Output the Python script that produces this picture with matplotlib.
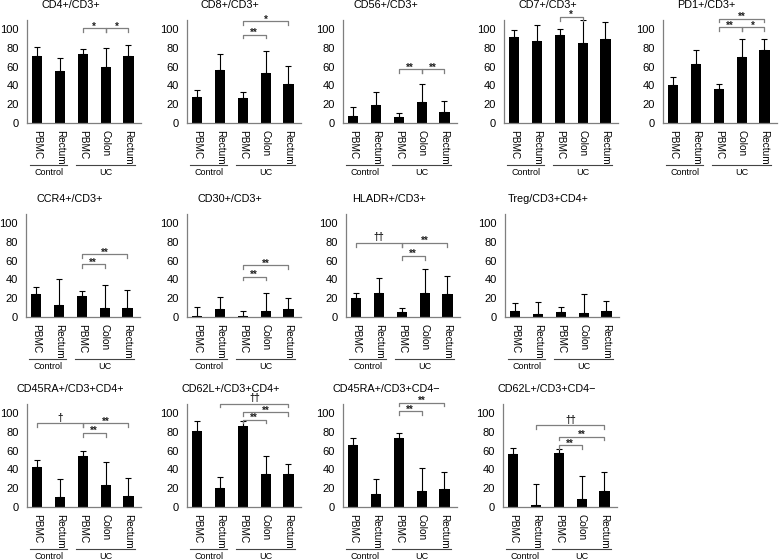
import matplotlib.pyplot as plt
import matplotlib.transforms as mtransforms

plt.rcParams['font.family'] = ['Liberation Sans', 'DejaVu Sans']

categories = ['PBMC', 'Rectum', 'PBMC', 'Colon', 'Rectum']
group_names = ['Control', 'UC']
group_members = [(0, 1), (2, 4)]
yticks = [0, 20, 40, 60, 80, 100]

titles = ['CD4+/CD3+', 'CD8+/CD3+', 'CD56+/CD3+', 'CD7+/CD3+', 'PD1+/CD3+',
          'CCR4+/CD3+', 'CD30+/CD3+', 'HLADR+/CD3+', 'Treg/CD3+CD4+',
          'CD45RA+/CD3+CD4+', 'CD62L+/CD3+CD4+', 'CD45RA+/CD3+CD4\u2212',
          'CD62L+/CD3+CD4\u2212']

# mean values
means = [
    [71, 55, 73, 60, 71],
    [28, 56, 27, 53, 41],
    [7, 19, 6, 22, 12],
    [92, 87, 94, 85, 89],
    [40, 63, 36, 70, 78],
    [25, 13, 22, 10, 10],
    [1, 8, 1, 6, 9],
    [20, 26, 5, 26, 24],
    [6, 3, 5, 4, 6],
    [43, 11, 54, 23, 12],
    [81, 20, 86, 35, 35],
    [66, 14, 73, 17, 19],
    [56, 2, 57, 8, 17],
]

# top of the error bars
upper = [
    [81, 69, 79, 80, 83],
    [35, 73, 33, 77, 61],
    [17, 33, 11, 41, 23],
    [99, 104, 100, 110, 107],
    [49, 78, 41, 89, 89],
    [32, 40, 28, 34, 29],
    [11, 21, 6, 26, 20],
    [26, 42, 10, 51, 44],
    [15, 16, 11, 24, 17],
    [50, 30, 60, 48, 31],
    [91, 32, 91, 54, 46],
    [73, 30, 79, 41, 37],
    [63, 25, 62, 33, 37],
]

# significance comparisons: (left bar, right bar, mark)
comparisons = [
    [(2, 3, '*'), (3, 4, '*')],
    [(2, 3, '**'), (2, 4, '*')],
    [(2, 3, '**'), (3, 4, '**')],
    [(2, 3, '*')],
    [(2, 3, '**'), (3, 4, '*'), (2, 4, '**')],
    [(2, 3, '**'), (2, 4, '**')],
    [(2, 3, '**'), (2, 4, '**')],
    [(0, 2, '\u2020\u2020'), (2, 4, '**'), (2, 3, '**')],
    [],
    [(0, 2, '\u2020'), (2, 4, '**'), (2, 3, '**')],
    [(1, 4, '\u2020\u2020'), (2, 4, '**'), (2, 3, '**')],
    [(2, 3, '**'), (2, 4, '**')],
    [(1, 4, '\u2020\u2020'), (2, 4, '**'), (2, 3, '**')],
]
bracket_levels = [
    [101, 101], [94, 108], [57, 57], [113], [102, 102, 111],
    [56, 67], [43, 55], [79, 79, 65], [],
    [89, 89, 79], [110, 101, 93], [102, 111], [87, 75, 66],
]

W, H = 779, 560
fig = plt.figure(figsize=(W / 100, H / 100), dpi=100)

row_zero_px = [123, 317, 507]
col_left_px = [[27, 187, 343, 504, 663], [26, 187, 346, 505], [27, 187, 343, 503]]
ax_w, ax_h = 114, 103.4
grey = '#7f7f7f'

k = 0
for r in range(3):
    for c, left in enumerate(col_left_px[r]):
        ax = fig.add_axes([left / W, 1 - row_zero_px[r] / H, ax_w / W, ax_h / H])
        x = range(len(categories))
        ax.bar(x, means[k], width=0.45, color='black', zorder=2)
        err = [u - m for u, m in zip(upper[k], means[k])]
        ax.errorbar(x, means[k], yerr=[[0] * len(err), err], fmt='none',
                    ecolor='black', elinewidth=0.8, capsize=2.2, capthick=0.8, zorder=1)
        ax.set_xlim(-0.45, 4.55)
        ax.set_ylim(0, 110)
        ax.set_yticks(yticks)
        ax.set_xticks(list(x))
        ax.set_xticklabels(categories, rotation=-90, fontsize=7.2)
        ax.tick_params(axis='y', length=0, pad=6, labelsize=8)
        ax.tick_params(axis='x', length=0, pad=5)
        for s in ['top', 'right']:
            ax.spines[s].set_visible(False)
        for s in ['left', 'bottom']:
            ax.spines[s].set_color(grey)
            ax.spines[s].set_linewidth(0.9)

        ax.text(0.38, 1.14, titles[k], transform=ax.transAxes, ha='center',
                va='center', fontsize=7.8)

        trans = mtransforms.blended_transform_factory(ax.transData, ax.transAxes)
        for name, (a, b) in zip(group_names, group_members):
            ax.plot([a - 0.3, b + 0.3], [-0.405, -0.405], color='#444444', lw=0.8,
                    transform=trans, clip_on=False)
            ax.text((a + b) / 2, -0.48, name, transform=trans, ha='center',
                    va='center', fontsize=6.5)

        for (a, b, mark), lv in zip(comparisons[k], bracket_levels[k]):
            ax.plot([a, a, b, b], [lv - 4, lv, lv, lv - 4], color=grey, lw=0.9,
                    clip_on=False)
            off = -1.5 if '*' in mark else 2.5
            ax.text((a + b) / 2, lv + off, mark, ha='center', va='baseline',
                    fontsize=7, fontweight='bold', color='#222222')
        k += 1

fig.savefig('out.png', dpi=100)
